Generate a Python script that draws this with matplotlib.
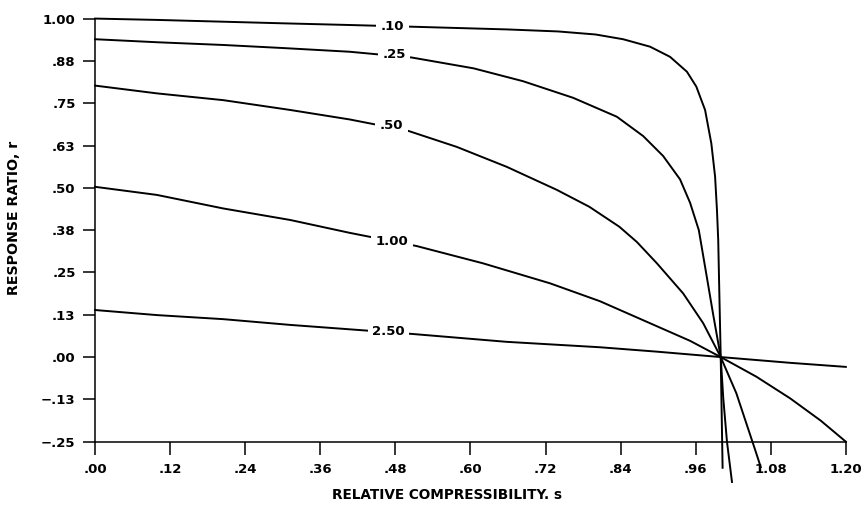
import matplotlib
matplotlib.use('Agg')
import matplotlib.pyplot as plt

# curve data: relative compressibility s -> response ratio r
s_010 = [0.0, 0.10, 0.20, 0.30, 0.407, 0.506, 0.658, 0.74, 0.80, 0.844, 0.887, 0.919, 0.946,
         0.961, 0.975, 0.985, 0.991, 0.994, 0.996, 0.998, 1.0, 1.003]
r_010 = [1.000, 0.996, 0.991, 0.986, 0.981, 0.976, 0.968, 0.962, 0.953, 0.939, 0.917, 0.887, 0.843,
         0.799, 0.730, 0.631, 0.533, 0.434, 0.346, 0.170, 0.0, -0.327]

s_025 = [0.0, 0.10, 0.205, 0.30, 0.407, 0.506, 0.605, 0.684, 0.764, 0.834, 0.876, 0.908,
         0.935, 0.951, 0.965, 0.977, 0.988, 1.0, 1.004, 1.010, 1.018]
r_025 = [0.939, 0.930, 0.922, 0.913, 0.902, 0.885, 0.853, 0.815, 0.766, 0.710, 0.653, 0.594,
         0.525, 0.456, 0.375, 0.245, 0.125, 0.0, -0.120, -0.250, -0.369]

s_050 = [0.0, 0.099, 0.205, 0.312, 0.407, 0.501, 0.578, 0.658, 0.738, 0.790, 0.838, 0.866,
         0.898, 0.940, 0.972, 1.0, 1.025, 1.055, 1.064]
r_050 = [0.802, 0.779, 0.759, 0.730, 0.702, 0.668, 0.621, 0.562, 0.494, 0.444, 0.385, 0.340,
         0.277, 0.188, 0.100, 0.0, -0.107, -0.274, -0.325]

s_100 = [0.0, 0.099, 0.205, 0.312, 0.407, 0.514, 0.620, 0.727, 0.807, 0.871, 0.951, 1.0,
         1.057, 1.111, 1.160, 1.2]
r_100 = [0.503, 0.479, 0.439, 0.405, 0.367, 0.328, 0.277, 0.218, 0.165, 0.113, 0.048, 0.0,
         -0.058, -0.122, -0.188, -0.25]

s_250 = [0.0, 0.099, 0.205, 0.312, 0.407, 0.509, 0.658, 0.807, 0.898, 1.0, 1.111, 1.2]
r_250 = [0.139, 0.124, 0.112, 0.095, 0.082, 0.068, 0.045, 0.029, 0.016, 0.0, -0.017, -0.029]

curve_names = ['.10', '.25', '.50', '1.00', '2.50']

x_ticks = [0.0, 0.12, 0.24, 0.36, 0.48, 0.60, 0.72, 0.84, 0.96, 1.08, 1.20]
x_tick_labels = ['.00', '.12', '.24', '.36', '.48', '.60', '.72', '.84', '.96', '1.08', '1.20']
y_ticks = [-0.25, -0.125, 0.0, 0.125, 0.25, 0.375, 0.5, 0.625, 0.75, 0.875, 1.0]
y_tick_labels = ['\u2212.25', '\u2212.13', '.00', '.13', '.25', '.38', '.50', '.63', '.75', '.88', '1.00']

plt.rcParams['font.family'] = ['DejaVu Sans']
plt.rcParams['font.weight'] = 'bold'

fig = plt.figure(figsize=(8.64, 5.16), dpi=100)
ax = fig.add_axes([0.110, 0.144, 0.869, 0.820])

curves = [(s_010, r_010), (s_025, r_025), (s_050, r_050), (s_100, r_100), (s_250, r_250)]
for xs, ys in curves:
    ax.plot(xs, ys, color='black', lw=1.4, clip_on=False, zorder=2)

# inline curve labels (white box cuts the line)
label_pos = [(0.475, 0.976), (0.478, 0.894), (0.474, 0.683), (0.475, 0.341), (0.469, 0.075)]
for name, (lx, ly) in zip(curve_names, label_pos):
    ax.text(lx, ly, name, ha='center', va='center', fontsize=9.5, fontweight='bold',
            bbox=dict(boxstyle='square,pad=0.35', fc='white', ec='none'), zorder=3)

ax.set_xlim(0, 1.2)
ax.set_ylim(-0.25, 1.0)
ax.set_xticks(x_ticks)
ax.set_xticklabels(x_tick_labels)
ax.set_yticks(y_ticks)
ax.set_yticklabels(y_tick_labels)
ax.spines['top'].set_visible(False)
ax.spines['right'].set_visible(False)
for sp in ['left', 'bottom']:
    ax.spines[sp].set_linewidth(1.1)
ax.tick_params(direction='out', length=9, width=1.1, labelsize=9.5)
ax.tick_params(axis='y', pad=5)
ax.tick_params(axis='x', pad=6)
for lab in ax.get_xticklabels() + ax.get_yticklabels():
    lab.set_fontweight('bold')

fig.text(447 / 864, 1 - 495 / 516, 'RELATIVE COMPRESSIBILITY. s', ha='center', va='center',
         fontsize=9.8, fontweight='bold')
fig.text(14 / 864, 1 - 218 / 516, 'RESPONSE RATIO, r', ha='center', va='center',
         rotation=90, fontsize=10.2, fontweight='bold')

fig.savefig('out.png', dpi=100)
